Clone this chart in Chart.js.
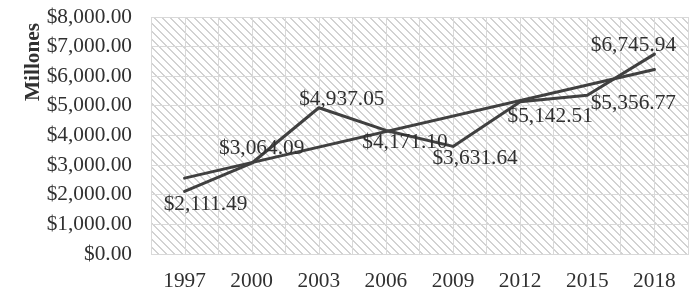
<!DOCTYPE html>
<html>
<head>
<meta charset="utf-8">
<script src="https://cdn.jsdelivr.net/npm/chart.js@4.4.1/dist/chart.umd.min.js"></script>
<style>
  html, body { margin: 0; padding: 0; background: #fff; }
  #wrap { width: 700px; height: 298px; }
</style>
</head>
<body>
<div id="wrap"><canvas id="chart"></canvas></div>
<script>
// Data
const years = ["1997", "2000", "2003", "2006", "2009", "2012", "2015", "2018"];
const amounts = [2111.49, 3064.09, 4937.05, 4171.10, 3631.64, 5142.51, 5356.77, 6745.94];
const trendEnds = [2562, null, null, null, null, null, null, 6228]; // linear trend line, first and last point
const yTicks = [0, 1000, 2000, 3000, 4000, 5000, 6000, 7000, 8000];
const axisTitle = "Millones";

// Where each value label sits relative to its point (px)
const labelOffsets = [[21, 13], [10, -15], [23, -8], [19, 12], [22, 12], [30, 15], [46, 8], [-21, -9]];

const serif = "'Liberation Serif', 'Times New Roman', serif";
const fontSize = 21.33;
const inkColor = "#303030";
const lineColor = "#404040";
const gridColor = "#d9d9d9";

function money(v) {
    return "$" + v.toLocaleString("en-US", { minimumFractionDigits: 2, maximumFractionDigits: 2 });
}

// Excel style "wide downward diagonal" fill
function makeHatch(ctx) {
    const tile = document.createElement("canvas");
    tile.width = 8;
    tile.height = 8;
    const g = tile.getContext("2d");
    g.fillStyle = "#ffffff";
    g.fillRect(0, 0, 8, 8);
    g.fillStyle = "#d2d2d2";
    for (let r = 0; r < 8; r++) {
        for (let k = 0; k < 2; k++) {
            g.fillRect((r + k) % 8, r, 1, 1);
        }
    }
    return ctx.createPattern(tile, "repeat");
}

const backgroundPlugin = {
    id: "hatchBackground",
    beforeDraw(chart) {
        const { ctx, chartArea } = chart;
        const xScale = chart.scales.x;
        ctx.save();
        ctx.fillStyle = makeHatch(ctx);
        ctx.fillRect(chartArea.left, chartArea.top, chartArea.right - chartArea.left, chartArea.bottom - chartArea.top);
        // extra vertical gridlines through each category centre
        ctx.strokeStyle = gridColor;
        ctx.lineWidth = 1;
        years.forEach((y, i) => {
            const px = Math.round(xScale.getPixelForValue(i)) + 0.5;
            ctx.beginPath();
            ctx.moveTo(px, chartArea.top);
            ctx.lineTo(px, chartArea.bottom);
            ctx.stroke();
        });
        ctx.restore();
    },
    afterDraw(chart) {
        // rotated axis title
        const { ctx } = chart;
        ctx.save();
        ctx.translate(33, 62);
        ctx.rotate(-Math.PI / 2);
        ctx.font = "bold " + fontSize + "px " + serif;
        ctx.fillStyle = inkColor;
        ctx.textAlign = "center";
        ctx.textBaseline = "middle";
        ctx.fillText(axisTitle, 0, 0);
        ctx.restore();
    }
};

const valueLabelPlugin = {
    id: "valueLabels",
    afterDatasetsDraw(chart) {
        const { ctx } = chart;
        const meta = chart.getDatasetMeta(0);
        ctx.save();
        ctx.font = fontSize + "px " + serif;
        ctx.fillStyle = inkColor;
        ctx.textAlign = "center";
        ctx.textBaseline = "middle";
        meta.data.forEach((pt, i) => {
            const [dx, dy] = labelOffsets[i];
            ctx.fillText(money(amounts[i]), pt.x + dx, pt.y + dy);
        });
        ctx.restore();
    }
};

const ctx = document.getElementById("chart").getContext("2d");
new Chart(ctx, {
    type: "line",
    data: {
        labels: years,
        datasets: [
            {
                label: "Monto",
                data: amounts,
                borderColor: lineColor,
                borderWidth: 3,
                borderCapStyle: "round",
                borderJoinStyle: "round",
                pointRadius: 0,
                tension: 0,
                fill: false
            },
            {
                label: "Lineal (Monto)",
                data: trendEnds,
                spanGaps: true,
                borderColor: lineColor,
                borderWidth: 3,
                borderCapStyle: "round",
                pointRadius: 0,
                tension: 0,
                fill: false
            }
        ]
    },
    options: {
        responsive: true,
        maintainAspectRatio: false,
        animation: false,
        layout: { padding: { top: 17, right: 12, bottom: 0, left: 0 } },
        plugins: {
            legend: { display: false },
            tooltip: { enabled: false }
        },
        scales: {
            x: {
                offset: true,
                grid: { offset: true, color: gridColor, lineWidth: 1, drawTicks: false },
                border: { color: gridColor },
                ticks: { font: { family: serif, size: fontSize }, color: inkColor, padding: 15, maxRotation: 0 },
                afterFit: s => { s.height = 44; s.paddingLeft = 0; s.paddingRight = 0; }
            },
            y: {
                min: 0,
                max: 8000,
                grid: { color: gridColor, lineWidth: 1, drawTicks: false },
                border: { display: false },
                afterBuildTicks: s => { s.ticks = yTicks.map(v => ({ value: v })); },
                ticks: {
                    font: { family: serif, size: fontSize },
                    color: inkColor,
                    padding: 19,
                    callback: v => money(v)
                },
                afterFit: s => { s.width = 151; s.paddingTop = 0; s.paddingBottom = 0; }
            }
        }
    },
    plugins: [backgroundPlugin, valueLabelPlugin]
});
</script>
</body>
</html>
